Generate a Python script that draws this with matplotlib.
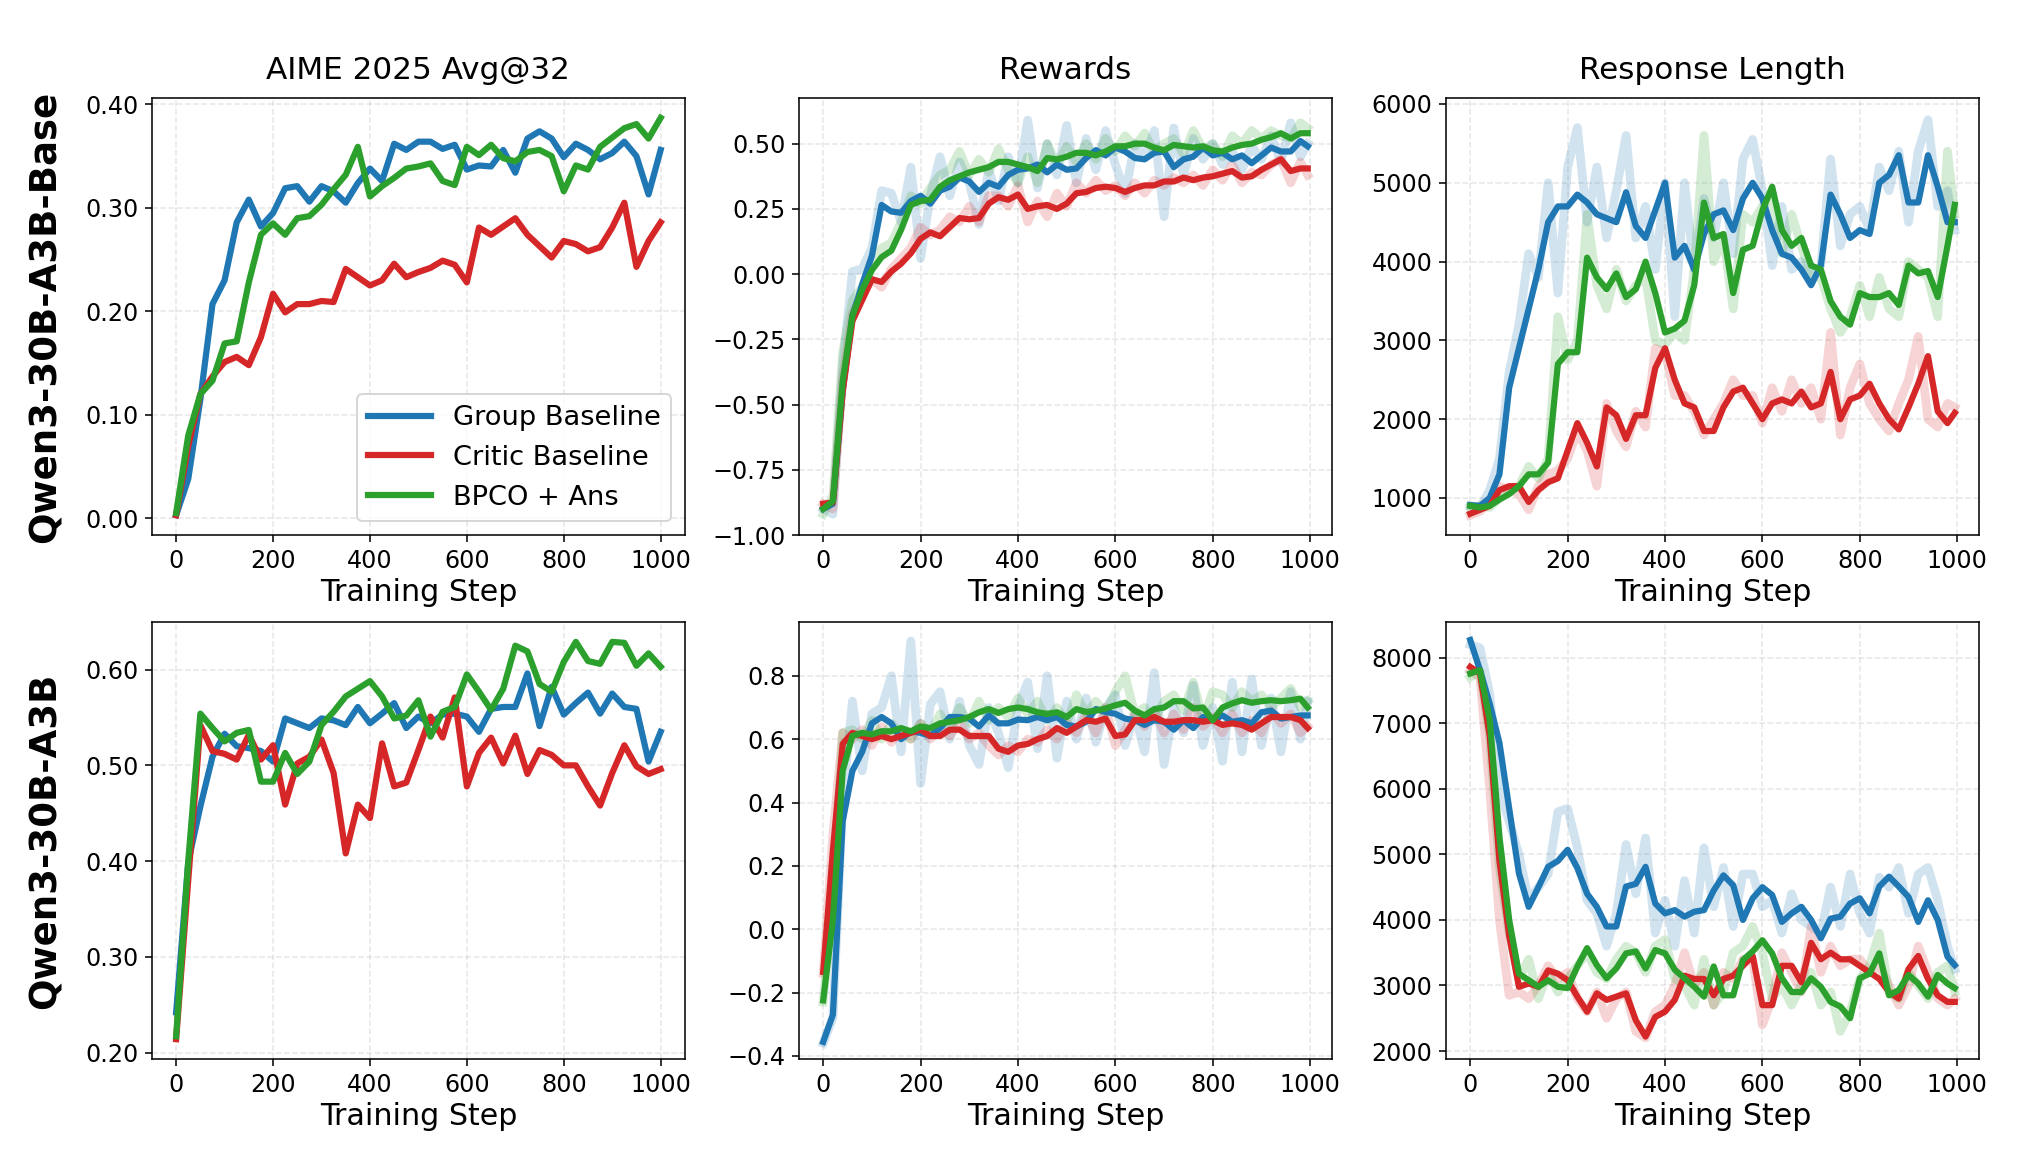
import numpy as np
import matplotlib
matplotlib.use("Agg")
import matplotlib.pyplot as plt
from matplotlib.ticker import MultipleLocator, FormatStrFormatter

BLUE = "#1f77b4"
RED = "#d62728"
GREEN = "#2ca02c"

labels = ["Group Baseline", "Critic Baseline", "BPCO + Ans"]
col_titles = ["AIME 2025 Avg@32", "Rewards", "Response Length"]
row_labels = ["Qwen3-30B-A3B-Base", "Qwen3-30B-A3B"]

# evaluation steps (AIME) and training-log steps (rewards / length)
eval_steps = list(range(0, 1001, 25))
log_steps = list(range(0, 1000, 20)) + [995]

# ---------------- Qwen3-30B-A3B-Base ----------------
aime_base_group = [0.003, 0.038, 0.115, 0.207, 0.230, 0.286, 0.308, 0.282, 0.295, 0.319,
                   0.321, 0.306, 0.321, 0.316, 0.305, 0.324, 0.338, 0.326, 0.362, 0.356,
                   0.364, 0.364, 0.357, 0.361, 0.337, 0.341, 0.340, 0.356, 0.334, 0.367,
                   0.374, 0.367, 0.349, 0.362, 0.356, 0.347, 0.353, 0.364, 0.350, 0.313,
                   0.356]
aime_base_critic = [0.003, 0.070, 0.120, 0.137, 0.151, 0.156, 0.148, 0.175, 0.217, 0.199,
                    0.207, 0.207, 0.210, 0.209, 0.241, 0.233, 0.225, 0.230, 0.246, 0.233,
                    0.238, 0.242, 0.249, 0.245, 0.228, 0.281, 0.274, 0.282, 0.290, 0.274,
                    0.263, 0.252, 0.268, 0.265, 0.258, 0.262, 0.281, 0.305, 0.243, 0.268,
                    0.286]
aime_base_bpco = [0.005, 0.080, 0.120, 0.133, 0.169, 0.171, 0.228, 0.274, 0.285, 0.274,
                  0.290, 0.292, 0.303, 0.318, 0.332, 0.359, 0.311, 0.321, 0.329, 0.338,
                  0.340, 0.343, 0.326, 0.322, 0.359, 0.351, 0.361, 0.348, 0.345, 0.354,
                  0.356, 0.350, 0.316, 0.341, 0.337, 0.359, 0.368, 0.377, 0.381, 0.367,
                  0.387]

rw_base_group = [-0.90, -0.88, -0.45, -0.16, -0.04, 0.07, 0.265, 0.24, 0.235, 0.28,
                 0.30, 0.27, 0.32, 0.335, 0.37, 0.355, 0.315, 0.35, 0.335, 0.38,
                 0.40, 0.405, 0.42, 0.39, 0.42, 0.40, 0.405, 0.445, 0.475, 0.455,
                 0.485, 0.47, 0.445, 0.44, 0.465, 0.47, 0.41, 0.44, 0.45, 0.485,
                 0.455, 0.465, 0.44, 0.455, 0.425, 0.455, 0.485, 0.47, 0.47, 0.51,
                 0.49]
rw_base_critic = [-0.88, -0.875, -0.45, -0.18, -0.10, -0.02, -0.03, 0.01, 0.04, 0.08,
                  0.135, 0.16, 0.145, 0.18, 0.215, 0.21, 0.215, 0.27, 0.295, 0.285,
                  0.305, 0.25, 0.26, 0.265, 0.25, 0.27, 0.31, 0.315, 0.33, 0.335,
                  0.33, 0.315, 0.33, 0.34, 0.34, 0.355, 0.355, 0.37, 0.36, 0.37,
                  0.375, 0.385, 0.395, 0.37, 0.375, 0.40, 0.42, 0.44, 0.395, 0.405,
                  0.405]
rw_base_bpco = [-0.90, -0.87, -0.41, -0.16, -0.06, 0.015, 0.065, 0.09, 0.17, 0.265,
                0.28, 0.285, 0.335, 0.36, 0.375, 0.39, 0.40, 0.41, 0.43, 0.43,
                0.42, 0.41, 0.395, 0.445, 0.44, 0.45, 0.465, 0.465, 0.455, 0.47,
                0.49, 0.49, 0.50, 0.50, 0.485, 0.475, 0.495, 0.49, 0.485, 0.49,
                0.475, 0.47, 0.485, 0.495, 0.50, 0.515, 0.525, 0.54, 0.52, 0.54,
                0.54]
rw_base_group_raw = [-0.90, -0.92, -0.35, 0.01, 0.02, 0.10, 0.32, 0.31, 0.20, 0.41,
                     0.06, 0.30, 0.45, 0.30, 0.43, 0.35, 0.19, 0.40, 0.28, 0.45,
                     0.35, 0.59, 0.33, 0.50, 0.38, 0.57, 0.35, 0.52, 0.40, 0.55,
                     0.42, 0.31, 0.50, 0.45, 0.55, 0.22, 0.56, 0.38, 0.52, 0.44,
                     0.50, 0.42, 0.47, 0.40, 0.49, 0.44, 0.53, 0.43, 0.58, 0.45,
                     0.50]
rw_base_critic_raw = [-0.88, -0.90, -0.40, -0.15, -0.08, -0.02, -0.05, 0.02, 0.06, 0.10,
                      0.18, 0.15, 0.17, 0.22, 0.20, 0.26, 0.20, 0.30, 0.30, 0.26,
                      0.34, 0.20, 0.28, 0.22, 0.31, 0.26, 0.35, 0.31, 0.36, 0.32,
                      0.34, 0.30, 0.35, 0.31, 0.36, 0.34, 0.37, 0.35, 0.38, 0.34,
                      0.40, 0.36, 0.42, 0.35, 0.39, 0.38, 0.42, 0.44, 0.35, 0.43,
                      0.38]
rw_base_bpco_raw = [-0.92, -0.85, -0.30, -0.10, -0.05, 0.05, 0.10, 0.12, 0.20, 0.30,
                    0.27, 0.33, 0.38, 0.40, 0.47, 0.38, 0.44, 0.39, 0.48, 0.40,
                    0.35, 0.45, 0.35, 0.50, 0.42, 0.49, 0.43, 0.50, 0.44, 0.52,
                    0.47, 0.53, 0.49, 0.54, 0.47, 0.50, 0.52, 0.46, 0.55, 0.48,
                    0.50, 0.45, 0.53, 0.50, 0.55, 0.52, 0.55, 0.53, 0.52, 0.58,
                    0.56]

len_base_group = [910, 900, 1000, 1300, 2400, 2900, 3400, 3900, 4500, 4700,
                  4700, 4850, 4750, 4600, 4550, 4500, 4880, 4450, 4300, 4650,
                  5000, 4050, 4200, 3900, 4350, 4600, 4650, 4400, 4800, 5000,
                  4800, 4400, 4100, 4050, 3900, 3700, 3950, 4850, 4600, 4300,
                  4400, 4350, 5000, 5100, 5350, 4750, 4750, 5350, 4950, 4500,
                  4500]
len_base_critic = [800, 850, 900, 1100, 1150, 1150, 950, 1100, 1200, 1250,
                   1600, 1950, 1700, 1400, 2150, 2050, 1750, 2050, 2050, 2650,
                   2900, 2500, 2200, 2150, 1850, 1850, 2150, 2350, 2400, 2200,
                   2000, 2200, 2250, 2200, 2350, 2150, 2200, 2600, 2000, 2250,
                   2300, 2450, 2200, 2000, 1870, 2150, 2450, 2800, 2100, 1950,
                   2080]
len_base_bpco = [900, 880, 900, 980, 1050, 1150, 1300, 1300, 1450, 2700,
                 2850, 2850, 4050, 3800, 3650, 3850, 3550, 3650, 4000, 3600,
                 3100, 3150, 3250, 3700, 4750, 4300, 4350, 3600, 4150, 4200,
                 4650, 4950, 4400, 4200, 4300, 3950, 3900, 3500, 3300, 3200,
                 3600, 3550, 3550, 3600, 3450, 3950, 3850, 3880, 3550, 4200,
                 4720]
len_base_group_raw = [900, 880, 1100, 1500, 2600, 3200, 4100, 3800, 5000, 3600,
                      5200, 5700, 4500, 5200, 4300, 4900, 5600, 4300, 4700, 3900,
                      5000, 3300, 5000, 3900, 4800, 4300, 5000, 4100, 5300, 5550,
                      4900, 3950, 4700, 3900, 4000, 3800, 3950, 5300, 4200, 4600,
                      4700, 4400, 5200, 4900, 5400, 4500, 5400, 5800, 4700, 4900,
                      4400]
len_base_critic_raw = [780, 830, 950, 1150, 1100, 1050, 850, 1150, 1300, 1350,
                       1500, 1850, 1600, 1150, 2200, 1850, 1650, 2100, 1900, 2900,
                       2850, 2300, 2300, 2100, 1800, 2000, 2200, 2500, 2300, 2300,
                       1950, 2400, 2100, 2500, 2200, 2400, 2000, 3100, 1800, 2400,
                       2700, 2200, 2000, 1850, 2200, 2500, 3050, 2000, 1900, 2200,
                       2150]
len_base_bpco_raw = [880, 900, 880, 1000, 1100, 1150, 1400, 1250, 1500, 3300,
                     2750, 3000, 4600, 3700, 3400, 3900, 3500, 3700, 3800, 3000,
                     2950, 3100, 3000, 3900, 5600, 4000, 4300, 3400, 4600, 4500,
                     4700, 4800, 4100, 4600, 4200, 3800, 3800, 3400, 3100, 3300,
                     3700, 3300, 3800, 3400, 3300, 4000, 3900, 3800, 3300, 5400,
                     4600]

# ---------------- Qwen3-30B-A3B ----------------
aime_inst_group = [0.242, 0.399, 0.457, 0.509, 0.533, 0.520, 0.518, 0.515, 0.504, 0.549,
                   0.544, 0.539, 0.549, 0.547, 0.542, 0.561, 0.544, 0.554, 0.565, 0.539,
                   0.551, 0.544, 0.553, 0.554, 0.551, 0.535, 0.559, 0.561, 0.561, 0.596,
                   0.541, 0.582, 0.553, 0.565, 0.576, 0.554, 0.575, 0.561, 0.559, 0.504,
                   0.535]
aime_inst_critic = [0.214, 0.380, 0.542, 0.515, 0.512, 0.506, 0.532, 0.506, 0.521, 0.459,
                    0.502, 0.509, 0.527, 0.492, 0.408, 0.459, 0.445, 0.523, 0.478, 0.482,
                    0.516, 0.551, 0.529, 0.571, 0.478, 0.513, 0.529, 0.502, 0.531, 0.491,
                    0.516, 0.511, 0.500, 0.500, 0.478, 0.458, 0.492, 0.521, 0.499, 0.491,
                    0.496]
aime_inst_bpco = [0.217, 0.400, 0.554, 0.539, 0.525, 0.534, 0.537, 0.483, 0.483, 0.513,
                  0.491, 0.504, 0.542, 0.556, 0.572, 0.580, 0.588, 0.572, 0.549, 0.552,
                  0.568, 0.530, 0.556, 0.561, 0.595, 0.577, 0.558, 0.580, 0.625, 0.619,
                  0.585, 0.577, 0.608, 0.629, 0.609, 0.606, 0.629, 0.628, 0.604, 0.617,
                  0.603]

rw_inst_group = [-0.356, -0.27, 0.34, 0.50, 0.56, 0.65, 0.67, 0.65, 0.60, 0.625,
                 0.62, 0.61, 0.635, 0.67, 0.67, 0.665, 0.64, 0.675, 0.65, 0.65,
                 0.662, 0.66, 0.67, 0.66, 0.67, 0.645, 0.64, 0.655, 0.695, 0.686,
                 0.68, 0.665, 0.66, 0.645, 0.66, 0.655, 0.63, 0.66, 0.635, 0.67,
                 0.66, 0.675, 0.655, 0.66, 0.65, 0.685, 0.69, 0.665, 0.67, 0.675,
                 0.675]
rw_inst_critic = [-0.135, 0.25, 0.585, 0.62, 0.61, 0.60, 0.61, 0.60, 0.61, 0.62,
                  0.63, 0.61, 0.61, 0.63, 0.63, 0.61, 0.61, 0.61, 0.57, 0.56,
                  0.58, 0.585, 0.60, 0.61, 0.635, 0.62, 0.64, 0.66, 0.655, 0.665,
                  0.61, 0.615, 0.66, 0.66, 0.67, 0.655, 0.655, 0.66, 0.66, 0.655,
                  0.66, 0.645, 0.65, 0.645, 0.63, 0.65, 0.67, 0.67, 0.67, 0.66,
                  0.635]
rw_inst_bpco = [-0.225, 0.03, 0.50, 0.61, 0.62, 0.615, 0.625, 0.625, 0.635, 0.625,
                0.64, 0.635, 0.65, 0.655, 0.66, 0.67, 0.685, 0.695, 0.683, 0.695,
                0.70, 0.695, 0.685, 0.68, 0.685, 0.67, 0.695, 0.686, 0.69, 0.697,
                0.707, 0.715, 0.69, 0.675, 0.695, 0.70, 0.72, 0.72, 0.697, 0.70,
                0.66, 0.70, 0.713, 0.723, 0.715, 0.72, 0.723, 0.72, 0.723, 0.728,
                0.70]
rw_inst_group_raw = [-0.36, -0.28, 0.40, 0.72, 0.50, 0.68, 0.70, 0.80, 0.56, 0.91,
                     0.46, 0.71, 0.75, 0.60, 0.72, 0.58, 0.52, 0.70, 0.62, 0.51,
                     0.70, 0.78, 0.57, 0.80, 0.54, 0.72, 0.60, 0.73, 0.59, 0.70,
                     0.74, 0.58, 0.68, 0.56, 0.81, 0.52, 0.70, 0.62, 0.77, 0.58,
                     0.70, 0.53, 0.78, 0.56, 0.79, 0.58, 0.73, 0.56, 0.75, 0.60,
                     0.72]
rw_inst_critic_raw = [-0.14, 0.30, 0.62, 0.60, 0.63, 0.58, 0.64, 0.59, 0.63, 0.60,
                      0.65, 0.60, 0.63, 0.61, 0.65, 0.60, 0.62, 0.58, 0.55, 0.58,
                      0.56, 0.60, 0.59, 0.63, 0.60, 0.65, 0.62, 0.68, 0.62, 0.70,
                      0.58, 0.63, 0.68, 0.64, 0.69, 0.62, 0.68, 0.63, 0.70, 0.64,
                      0.67, 0.62, 0.68, 0.62, 0.66, 0.62, 0.69, 0.65, 0.68, 0.62,
                      0.64]
rw_inst_bpco_raw = [-0.23, 0.10, 0.62, 0.63, 0.60, 0.66, 0.60, 0.65, 0.62, 0.60,
                    0.65, 0.62, 0.68, 0.63, 0.70, 0.65, 0.72, 0.66, 0.70, 0.67,
                    0.73, 0.68, 0.72, 0.66, 0.70, 0.65, 0.74, 0.68, 0.72, 0.68,
                    0.75, 0.80, 0.68, 0.70, 0.66, 0.72, 0.74, 0.69, 0.78, 0.66,
                    0.75, 0.74, 0.70, 0.75, 0.72, 0.74, 0.70, 0.73, 0.76, 0.70,
                    0.72]

len_inst_group = [8270, 7810, 7300, 6700, 5700, 4710, 4200, 4500, 4810, 4900,
                  5070, 4790, 4400, 4200, 3900, 3900, 4510, 4550, 4810, 4250,
                  4100, 4150, 4050, 4125, 4150, 4450, 4680, 4530, 4000, 4330,
                  4500, 4380, 3970, 4100, 4200, 4000, 3720, 4020, 4050, 4250,
                  4330, 4100, 4510, 4660, 4510, 4350, 3970, 4300, 4000, 3440,
                  3310]
len_inst_critic = [7860, 7760, 6800, 4900, 3750, 2980, 3030, 2980, 3230, 3180,
                   3080, 2830, 2600, 2880, 2780, 2830, 2880, 2470, 2220, 2520,
                   2600, 2780, 3150, 3100, 3100, 2850, 3100, 3150, 3300, 3450,
                   2700, 2700, 3300, 3300, 3050, 3650, 3400, 3500, 3400, 3400,
                   3300, 3200, 3100, 2900, 2800, 3250, 3450, 3100, 2850, 2750,
                   2750]
len_inst_bpco = [7760, 7810, 7050, 5270, 4000, 3180, 3080, 2980, 3080, 2980,
                 2960, 3290, 3570, 3310, 3110, 3260, 3490, 3520, 3260, 3540,
                 3490, 3240, 3110, 2980, 2830, 3290, 2850, 2850, 3390, 3520,
                 3690, 3490, 3110, 2900, 2900, 3110, 2980, 2750, 2680, 2500,
                 3110, 3180, 3490, 2850, 2930, 3160, 3030, 2830, 3160, 3030,
                 2960]
len_inst_group_raw = [8200, 8150, 7450, 6000, 5500, 5000, 4300, 4500, 4700, 5650,
                      5700, 5100, 4300, 4100, 3600, 4100, 5150, 4400, 5250, 3800,
                      4300, 3600, 4600, 3800, 5100, 4200, 4800, 3900, 4700, 4700,
                      4200, 4300, 3800, 4400, 4000, 3900, 3800, 4500, 3900, 4700,
                      4100, 3800, 4650, 4500, 4800, 4100, 4700, 4800, 4300, 3600,
                      3250]
len_inst_critic_raw = [7800, 7700, 6000, 4000, 2850, 2900, 2800, 3000, 3300, 3100,
                       3200, 2800, 2600, 2900, 2500, 2800, 2900, 2300, 2200, 2600,
                       2700, 3000, 3500, 3000, 3200, 2700, 3200, 3100, 3400, 3400,
                       2400, 2800, 3500, 3200, 2900, 3900, 3200, 3600, 3300, 3400,
                       3400, 3200, 3300, 3000, 2700, 3000, 3600, 3200, 2800, 2700,
                       2800]
len_inst_bpco_raw = [7700, 7800, 6800, 4800, 3800, 3100, 3400, 2800, 3200, 2900,
                     3100, 3300, 3500, 3200, 3100, 3400, 3600, 3500, 3200, 3600,
                     3700, 3100, 3000, 2700, 3400, 2700, 2900, 3500, 3600, 3900,
                     3500, 2800, 3000, 2700, 3000, 3200, 2700, 2900, 2300, 2600,
                     3100, 3300, 3800, 2900, 2800, 3200, 3000, 2800, 3200, 3300,
                     2900]

colors = [BLUE, RED, GREEN]
LW = 3.2


def draw_logged(ax, smooth, raw):
    # faint raw curves first, then the smoothed ones on top
    for r, c in zip(raw, colors):
        ax.plot(log_steps, r, color=c, lw=4.5, alpha=0.2)
    for s, c, lab in zip(smooth, colors, labels):
        ax.plot(log_steps, s, color=c, lw=LW, label=lab)


plt.rcParams['font.family'] = ['DejaVu Sans']
fig, axes = plt.subplots(2, 3, figsize=(2020 / 140, 1175 / 140), dpi=140)
fig.subplots_adjust(left=0.0752, right=0.9797, top=0.9166, bottom=0.0987,
                    wspace=0.214, hspace=0.199)

# AIME panels
for ax, series in [(axes[0, 0], [aime_base_group, aime_base_critic, aime_base_bpco]),
                   (axes[1, 0], [aime_inst_group, aime_inst_critic, aime_inst_bpco])]:
    for s, c, lab in zip(series, colors, labels):
        ax.plot(eval_steps, s, color=c, lw=LW, label=lab)
    ax.yaxis.set_major_locator(MultipleLocator(0.1))
    ax.yaxis.set_major_formatter(FormatStrFormatter('%.2f'))

draw_logged(axes[0, 1], [rw_base_group, rw_base_critic, rw_base_bpco],
            [rw_base_group_raw, rw_base_critic_raw, rw_base_bpco_raw])
axes[0, 1].set_ylim(-1.0, 0.675)
axes[0, 1].yaxis.set_major_locator(MultipleLocator(0.25))

draw_logged(axes[1, 1], [rw_inst_group, rw_inst_critic, rw_inst_bpco],
            [rw_inst_group_raw, rw_inst_critic_raw, rw_inst_bpco_raw])
axes[1, 1].set_ylim(-0.41, 0.97)
axes[1, 1].yaxis.set_major_locator(MultipleLocator(0.2))

draw_logged(axes[0, 2], [len_base_group, len_base_critic, len_base_bpco],
            [len_base_group_raw, len_base_critic_raw, len_base_bpco_raw])
axes[0, 2].set_ylim(530, 6076)
axes[0, 2].yaxis.set_major_locator(MultipleLocator(1000))

draw_logged(axes[1, 2], [len_inst_group, len_inst_critic, len_inst_bpco],
            [len_inst_group_raw, len_inst_critic_raw, len_inst_bpco_raw])
axes[1, 2].set_ylim(1878, 8545)
axes[1, 2].yaxis.set_major_locator(MultipleLocator(1000))

for i in range(2):
    for j in range(3):
        ax = axes[i, j]
        ax.xaxis.set_major_locator(MultipleLocator(200))
        ax.grid(True, linestyle='--', alpha=0.3)
        ax.tick_params(labelsize=12.3)
        ax.set_xlabel("Training Step", fontsize=15.5, labelpad=3)
        if i == 0:
            ax.set_title(col_titles[j], fontsize=16, pad=10)

axes[0, 0].legend(loc='lower right', fontsize=14, handlelength=2.3)

for k, ax in enumerate(axes[:, 0]):
    pos = ax.get_position()
    fig.text(0.0223, (pos.y0 + pos.y1) / 2, row_labels[k], rotation=90,
             ha='center', va='center', fontsize=19, fontweight='bold')

plt.savefig("out.png", dpi=140)
